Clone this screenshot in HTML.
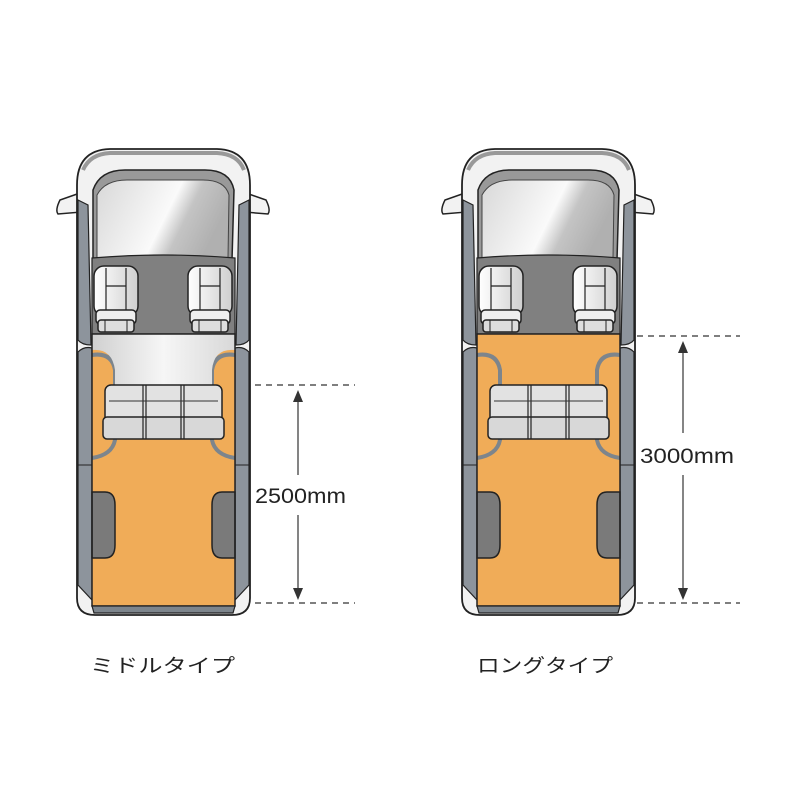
<!DOCTYPE html>
<html><head><meta charset="utf-8"><style>
html,body{margin:0;padding:0;background:#fff}
svg{display:block}
text{font-family:"Liberation Sans","Noto Sans CJK JP",sans-serif;fill:#222}
</style></head><body>
<svg width="800" height="800" viewBox="0 0 800 800" xmlns="http://www.w3.org/2000/svg">
<defs>
<linearGradient id="ws" x1="0" y1="0" x2="1" y2="0.3">
<stop offset="0" stop-color="#d8d8d8"/><stop offset="0.6" stop-color="#fafafa"/><stop offset="0.75" stop-color="#c4c4c4"/><stop offset="1" stop-color="#b0b0b0"/></linearGradient>
<linearGradient id="lf" x1="0" y1="0" x2="1" y2="0">
<stop offset="0" stop-color="#d0d0d0"/><stop offset="0.5" stop-color="#f6f6f6"/><stop offset="1" stop-color="#d8d8d8"/></linearGradient>
<linearGradient id="st" x1="0" y1="0" x2="1" y2="0">
<stop offset="0" stop-color="#fff"/><stop offset="1" stop-color="#cfcfcf"/></linearGradient>
<g id="seat">
<rect x="0" y="0" width="44" height="50" rx="10" fill="url(#st)" stroke="#222" stroke-width="1.5"/>
<line x1="12" y1="2" x2="12" y2="48" stroke="#222" stroke-width="1.2"/>
<line x1="32" y1="2" x2="32" y2="48" stroke="#222" stroke-width="1.2"/>
<line x1="12" y1="20" x2="32" y2="20" stroke="#222" stroke-width="1.2"/>
<rect x="2" y="44" width="40" height="14" rx="4" fill="#eee" stroke="#222" stroke-width="1.5"/>
<rect x="4" y="54" width="36" height="12" rx="3" fill="#ddd" stroke="#222" stroke-width="1.5"/>
<line x1="11" y1="54" x2="11" y2="66" stroke="#222"/><line x1="33" y1="54" x2="33" y2="66" stroke="#222"/>
</g>
<g id="bench">
<rect x="0" y="0" width="117" height="50" rx="6" fill="#e2e2e2" stroke="#222" stroke-width="1.5"/>
<rect x="-2" y="32" width="121" height="22" rx="4" fill="#d8d8d8" stroke="#222" stroke-width="1.5"/>
<line x1="38" y1="0" x2="38" y2="54" stroke="#222" stroke-width="1.2"/><line x1="41" y1="0" x2="41" y2="54" stroke="#222" stroke-width="1.2"/>
<line x1="76" y1="0" x2="76" y2="54" stroke="#222" stroke-width="1.2"/><line x1="79" y1="0" x2="79" y2="54" stroke="#222" stroke-width="1.2"/>
<line x1="4" y1="16" x2="113" y2="16" stroke="#333" stroke-width="1"/>
</g>
<g id="van">
<path d="M80 193 L60 200 Q55 210 58 214 L82 212 Z" fill="#f2f2f2" stroke="#222" stroke-width="1.5"/>
<path d="M246 193 L266 200 Q271 210 268 214 L244 212 Z" fill="#f2f2f2" stroke="#222" stroke-width="1.5"/>
<path d="M77 185 Q77 150 110 149 L217 149 Q250 150 250 185 L250 598 Q250 615 232 615 L95 615 Q77 615 77 598 Z" fill="#f2f2f2" stroke="#222" stroke-width="1.8"/>
<path d="M83 170 Q90 154 110 153 L217 153 Q238 154 244 170" fill="none" stroke="#999" stroke-width="4"/>
<path d="M78 200 L88 205 L91 345 Q82 345 78 340 Z" fill="#8d949c" stroke="#222" stroke-width="1.2"/>
<path d="M249 200 L239 205 L236 345 Q245 345 249 340 Z" fill="#8d949c" stroke="#222" stroke-width="1.2"/>
<path d="M78 352 Q84 346 92 348 L92 600 L78 585 Z" fill="#8d949c" stroke="#222" stroke-width="1.2"/>
<path d="M249 352 Q243 346 235 348 L235 600 L249 585 Z" fill="#8d949c" stroke="#222" stroke-width="1.2"/>
<line x1="78" y1="465" x2="92" y2="465" stroke="#222"/><line x1="235" y1="465" x2="249" y2="465" stroke="#222"/>
<path d="M93 260 L93 190 Q100 170 125 170 L205 170 Q230 170 234 190 L232 260 Z" fill="#999" stroke="#222" stroke-width="1.5"/>
<path d="M97 260 L97 195 Q105 180 127 180 L203 180 Q225 180 229 195 L228 258 Z" fill="url(#ws)" stroke="#444" stroke-width="1"/>
<path d="M92 258 Q163 252 235 258 L235 334 L92 334 Z" fill="#808080" stroke="#222" stroke-width="1.2"/>
<use href="#seat" x="94" y="266"/>
<use href="#seat" x="188" y="266"/>
</g>
</defs>

<use href="#van"/>
<rect x="92" y="334" width="143" height="272" fill="#f0ac58"/>
<path d="M92 355 Q112 352 115 370 L115 440 Q112 455 92 458" fill="none" stroke="#7d858c" stroke-width="4"/>
<path d="M235 355 Q215 352 212 370 L212 440 Q215 455 235 458" fill="none" stroke="#7d858c" stroke-width="4"/>
<path d="M92 334 L235 334 L235 350 Q214 348 212 370 L212 386 L115 386 L115 370 Q112 348 92 350 Z" fill="url(#lf)"/>
<use href="#bench" x="105" y="385"/>
<path d="M92 492 L105 492 Q115 492 115 505 L115 545 Q115 558 105 558 L92 558 Z" fill="#7a7a7a" stroke="#222" stroke-width="1.5"/>
<path d="M235 492 L222 492 Q212 492 212 505 L212 545 Q212 558 222 558 L235 558 Z" fill="#7a7a7a" stroke="#222" stroke-width="1.5"/>
<rect x="92" y="334" width="143" height="272" fill="none" stroke="#222" stroke-width="1.5"/>
<path d="M92 606 L235 606 L233 613 L94 613 Z" fill="#7d858c" stroke="#222" stroke-width="1.2"/>

<g transform="translate(385,0)">
<use href="#van"/>
<rect x="92" y="334" width="143" height="272" fill="#f0ac58"/>
<path d="M92 355 Q112 352 115 370 L115 440 Q112 455 92 458" fill="none" stroke="#7d858c" stroke-width="4"/>
<path d="M235 355 Q215 352 212 370 L212 440 Q215 455 235 458" fill="none" stroke="#7d858c" stroke-width="4"/>
<use href="#bench" x="105" y="385"/>
<path d="M92 492 L105 492 Q115 492 115 505 L115 545 Q115 558 105 558 L92 558 Z" fill="#7a7a7a" stroke="#222" stroke-width="1.5"/>
<path d="M235 492 L222 492 Q212 492 212 505 L212 545 Q212 558 222 558 L235 558 Z" fill="#7a7a7a" stroke="#222" stroke-width="1.5"/>
<rect x="92" y="334" width="143" height="272" fill="none" stroke="#222" stroke-width="1.5"/>
<path d="M92 606 L235 606 L233 613 L94 613 Z" fill="#7d858c" stroke="#222" stroke-width="1.2"/>
</g>

<g stroke="#333" stroke-width="1.2" fill="none">
<line x1="255" y1="385" x2="355" y2="385" stroke-dasharray="6,5"/>
<line x1="255" y1="603" x2="355" y2="603" stroke-dasharray="6,5"/>
<line x1="298" y1="395" x2="298" y2="475"/><line x1="298" y1="515" x2="298" y2="595"/>
<line x1="637" y1="336" x2="740" y2="336" stroke-dasharray="6,5"/>
<line x1="637" y1="603" x2="740" y2="603" stroke-dasharray="6,5"/>
<line x1="683" y1="346" x2="683" y2="433"/><line x1="683" y1="475" x2="683" y2="595"/>
</g>
<g fill="#333">
<path d="M293 402 L298 390 L303 402 Z"/><path d="M293 588 L298 600 L303 588 Z"/>
<path d="M678 353 L683 341 L688 353 Z"/><path d="M678 588 L683 600 L688 588 Z"/>
</g>
<text x="255" y="503" font-size="21" textLength="91" lengthAdjust="spacingAndGlyphs">2500mm</text>
<text x="640" y="463" font-size="21" textLength="94" lengthAdjust="spacingAndGlyphs">3000mm</text>
<text x="90" y="672" font-size="19" textLength="145" lengthAdjust="spacingAndGlyphs">ミドルタイプ</text>
<text x="477" y="672" font-size="19" textLength="136" lengthAdjust="spacingAndGlyphs">ロングタイプ</text>
</svg>
</body></html>
